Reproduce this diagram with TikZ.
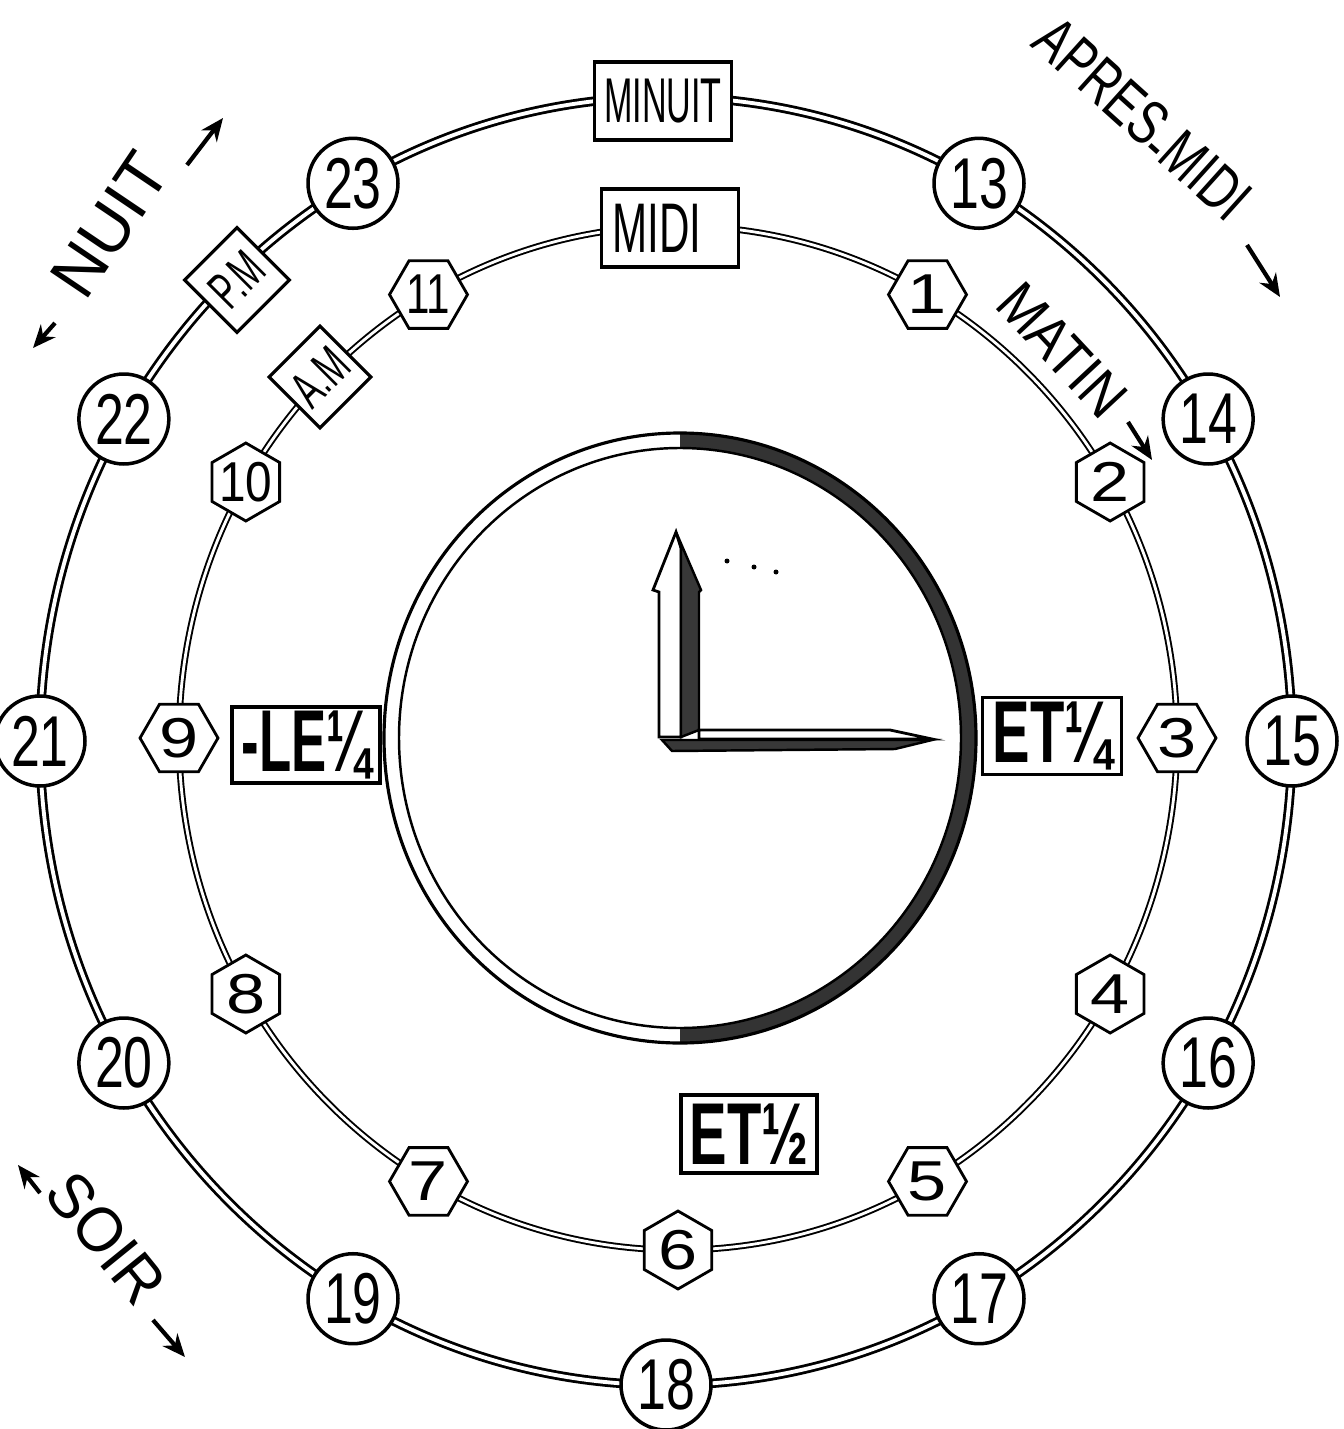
\documentclass[tikz,border=0pt]{standalone}
\usepackage{fontspec}
\usepackage{graphicx}
\setmainfont{Liberation Sans}
\usetikzlibrary{shapes.geometric,arrows.meta}
\begin{document}
\begin{tikzpicture}[x=0.02cm,y=-0.02cm,
  ringout/.style={draw=black,line width=1.6pt,double=white,double distance=2.2pt},
  ringin/.style={draw=black,line width=1.1pt,double=white,double distance=1.6pt},
  outnum/.style={circle,draw,line width=2pt,fill=white,minimum size=1.8cm,inner sep=0pt,font=\fontsize{41}{41}\selectfont},
  hexshape/.style={regular polygon,regular polygon sides=6,draw,line width=1.6pt,fill=white,minimum size=1.56cm,inner sep=0pt},
  hexlab/.style={inner sep=0pt,font=\fontsize{32}{32}\selectfont},
  tbox/.style={draw,line width=1.8pt,fill=white,inner sep=0pt},
  lab/.style={inner sep=0pt,font=\fontsize{36}{36}\selectfont},
  arr/.style={line width=2.4pt,-{Stealth[length=13pt,width=11pt]}},
  darkface/.style={fill=black!78,draw=black,line width=1.4pt},
  lightface/.style={fill=white,draw=black,line width=1.6pt}
]
\useasboundingbox (0,0) rectangle (1344,1429);
\fill[white] (0,0) rectangle (1344,1429);

% rings
\draw[ringout] (666,741) ellipse[x radius=626,y radius=644];
\draw[ringin] (678,738) ellipse[x radius=499,y radius=512];

% clock face
\fill[black!80] (680,433) arc[start angle=-90,end angle=90,x radius=296,y radius=305]
  -- (680,1028) arc[start angle=90,end angle=-90,x radius=281,y radius=290] -- cycle;
\draw[line width=1.8pt] (680,738) ellipse[x radius=296,y radius=305];
\draw[line width=1.4pt] (680,738) ellipse[x radius=281,y radius=290];

% hands
\draw[lightface] (659,737) -- (659,592) -- (653,590) -- (676,532) -- (681,548) -- (681,737) -- cycle;
\draw[darkface] (681,737) -- (681,548) -- (676,532) -- (701,590) -- (699,592) -- (699,730) -- cycle;
\draw[lightface] (699,730) -- (890,730) -- (932,739) -- (699,739) -- cycle;
\draw[darkface] (662,740) -- (932,740) -- (895,749) -- (672,751) -- cycle;
\fill (727,561) circle[radius=2.5];
\fill (754,567) circle[radius=2.5];
\fill (776,572) circle[radius=2.5];

% outer hour circles
\foreach \k/\t in {1/13,2/14,3/15,4/16,5/17,6/18,7/19,8/20,9/21,10/22,11/23}{
  \pgfmathsetmacro\xx{666+626*cos(90-30*\k)}
  \pgfmathsetmacro\yy{741-644*sin(90-30*\k)}
  \node[outnum] (o\t) at (\xx,\yy) {\scalebox{0.72}[1]{\t}};
}

% inner hour hexagons
\foreach \h/\s in {1/1.25,2/1.25,3/1.25,4/1.25,5/1.25,6/1.25,7/1.25,8/1.25,9/1.25,10/0.85,11/0.75}{
  \pgfmathsetmacro\xx{678+499*cos(90-30*\h)}
  \pgfmathsetmacro\yy{738-512*sin(90-30*\h)}
  \pgfmathsetmacro\rr{90-30*\h}
  \node[hexshape,rotate=\rr] (i\h) at (\xx,\yy) {};
  \node[hexlab] (it\h) at (i\h.center) {\scalebox{\s}[1]{\h}};
}

% boxes
\node[tbox,minimum width=2.74cm,minimum height=1.56cm] (minuit) at (663,101)
  {\fontsize{36}{36}\selectfont\scalebox{0.54}[1]{MINUIT}};
\node[tbox,minimum width=2.74cm,minimum height=1.56cm] (midi) at (670,228) {};
\node[inner sep=0pt,anchor=west,font=\fontsize{40}{40}\selectfont] (midit) at ([xshift=0.24cm]midi.west)
  {\scalebox{0.6}[1]{MIDI}};
\node[tbox,minimum width=2.78cm,minimum height=1.54cm] (et14) at (1052,736)
  {\fontsize{50}{50}\selectfont\bfseries\scalebox{0.64}[1]{ET¼}};
\node[tbox,minimum width=2.96cm,minimum height=1.52cm] (le14) at (306,745)
  {\fontsize{50}{50}\selectfont\bfseries\scalebox{0.6}[1]{-LE¼}};
\node[tbox,minimum width=2.72cm,minimum height=1.56cm] (et12) at (749,1134)
  {\fontsize{50}{50}\selectfont\bfseries\scalebox{0.64}[1]{ET½}};
\node[tbox,minimum size=1.44cm,rotate=45] (am) at (320,377)
  {\fontsize{30}{30}\selectfont\scalebox{0.62}[1]{A.M}};
\node[tbox,minimum size=1.48cm,rotate=45] (pm) at (237,280)
  {\fontsize{30}{30}\selectfont\scalebox{0.62}[1]{P.M}};

% period labels
\node[lab,rotate=56,font=\fontsize{38}{38}\selectfont] (nuit) at (110,225) {NUIT};
\node[lab,rotate=-42] (apres) at (1140,122) {\scalebox{0.72}[1]{APRES\raisebox{-0.3ex}{-}MIDI}};
\node[lab,rotate=-47,font=\fontsize{34}{34}\selectfont] (matin) at (1062,350) {\scalebox{0.87}[1]{MATIN}};
\node[lab,rotate=-51] (soir) at (106,1238) {\scalebox{0.95}[1]{SOIR}};

% arrows
\coordinate (na) at (55,323);   \coordinate (nat) at (33,348);
\coordinate (nb) at (187,165);  \coordinate (nbt) at (223,118);
\coordinate (aa) at (1247,245); \coordinate (aat) at (1280,297);
\coordinate (ma) at (1128,422); \coordinate (mat) at (1152,460);
\coordinate (sa) at (40,1193);  \coordinate (sat) at (18,1165);
\coordinate (sb) at (153,1320); \coordinate (sbt) at (185,1357);
\draw[arr] (na) -- (nat);
\draw[arr] (nb) -- (nbt);
\draw[arr] (aa) -- (aat);
\draw[arr] (ma) -- (mat);
\draw[arr] (sa) -- (sat);
\draw[arr] (sb) -- (sbt);
\end{tikzpicture}
\end{document}
